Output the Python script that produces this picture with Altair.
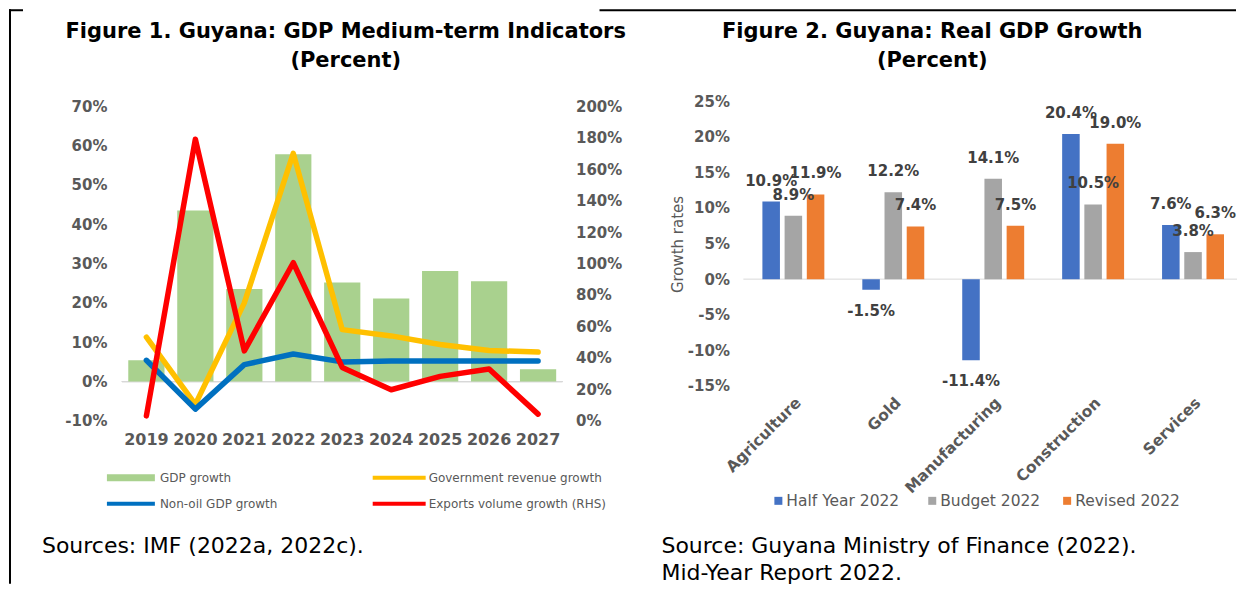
import altair as alt
import pandas as pd

# ---------------- data ----------------
years = ["2019", "2020", "2021", "2022", "2023", "2024", "2025", "2026", "2027"]
gdp_growth = [5.4, 43.5, 23.5, 57.8, 25.2, 21.1, 28.1, 25.5, 3.1]
gov_revenue_growth = [11.3, -5.8, 20.0, 58.0, 13.2, 11.6, 9.4, 7.9, 7.5]
non_oil_gdp_growth = [5.4, -7.0, 4.3, 7.0, 5.0, 5.2, 5.2, 5.2, 5.2]
exports_volume_growth = [3.2, 179.0, 44.5, 100.5, 34.0, 19.8, 28.3, 33.0, 4.3]

sectors = ["Agriculture", "Gold", "Manufacturing", "Construction", "Services"]
series_names = ["Half Year 2022", "Budget 2022", "Revised 2022"]
half_year_2022 = [10.9, -1.5, -11.4, 20.4, 7.6]
budget_2022 = [8.9, 12.2, 14.1, 10.5, 3.8]
revised_2022 = [11.9, 7.4, 7.5, 19.0, 6.3]

left_legend = ["GDP growth", "Government revenue growth",
               "Non-oil GDP growth", "Exports volume growth (RHS)"]
left_title = ["Figure 1. Guyana: GDP Medium-term Indicators", "(Percent)"]
right_title = ["Figure 2. Guyana: Real GDP Growth", "(Percent)"]
left_source = ["Sources: IMF (2022a, 2022c)."]
right_source = ["Source: Guyana Ministry of Finance (2022).", "Mid-Year Report 2022."]

# ---------------- styles ----------------
FONT = "DejaVu Sans"
AX = "#595959"
GREEN, YELLOW, BLUE, RED = "#A9D18E", "#FFC000", "#0070C0", "#FF0000"
BAR_COLORS = ["#4472C4", "#A5A5A5", "#ED7D31"]
NOVIEW = alt.ViewBackground(stroke="transparent", strokeWidth=0)

LW, LH = 441, 320
RW, RH = 494, 285
SPACING = 181

df_left = pd.DataFrame({
    "year": years, "gdp": gdp_growth, "gov": gov_revenue_growth,
    "nonoil": non_oil_gdp_growth, "exports": exports_volume_growth,
})

rows = []
for name, vals in zip(series_names, [half_year_2022, budget_2022, revised_2022]):
    for s, v in zip(sectors, vals):
        rows.append({"sector": s, "series": name, "value": v,
                     "label": f"{v:.1f}%"})
df_right = pd.DataFrame(rows)

one = pd.DataFrame({"a": [0]})


def txt(s, x, y, size, color="black", weight="normal", align="left", baseline="middle"):
    return alt.Chart(one).mark_text(
        text=s, font=FONT, fontSize=size, color=color, fontWeight=weight,
        align=align, baseline=baseline,
    ).encode(x=alt.value(x), y=alt.value(y))


def hline(x1, x2, y, color, width):
    return alt.Chart(one).mark_rule(color=color, strokeWidth=width).encode(
        x=alt.value(x1), x2=alt.value(x2), y=alt.value(y))


def vline(x, y1, y2, color, width):
    return alt.Chart(one).mark_rule(color=color, strokeWidth=width).encode(
        x=alt.value(x), y=alt.value(y1), y2=alt.value(y2))


def box(x1, x2, y1, y2, color):
    return alt.Chart(one).mark_rect(color=color).encode(
        x=alt.value(x1), x2=alt.value(x2), y=alt.value(y1), y2=alt.value(y2))


# ---------------- left panel ----------------
x_left = alt.X("year:N", sort=years, title=None,
               scale=alt.Scale(paddingInner=0.26, paddingOuter=0.13),
               axis=alt.Axis(labelAngle=0, ticks=False, domain=False,
                             labelFont=FONT, labelFontSize=16, labelFontWeight="bold",
                             labelColor=AX, labelPadding=11))
yL_scale = alt.Scale(domain=[-10, 71.27], nice=False, zero=False)
yL_axis = alt.Axis(values=list(range(-10, 71, 10)), labelExpr="datum.value + '%'",
                   grid=False, ticks=False, domain=False, labelFont=FONT,
                   labelFontSize=15, labelFontWeight="bold", labelColor=AX,
                   labelPadding=15, title=None)
yR_scale = alt.Scale(domain=[0, 203.17], nice=False, zero=False)
yR_axis = alt.Axis(values=list(range(0, 201, 20)), labelExpr="datum.value + '%'",
                   orient="right", grid=False, ticks=False, domain=False,
                   labelFont=FONT, labelFontSize=15, labelFontWeight="bold",
                   labelColor=AX, labelPadding=13, title=None)

base_l = alt.Chart(df_left)
zero_l = base_l.mark_rule(color="#D9D9D9", strokeWidth=1).encode(
    y=alt.Y("z:Q", scale=yL_scale, axis=yL_axis, title=None)
).transform_calculate(z="0")
bars_l = base_l.mark_bar(color=GREEN).encode(
    x=x_left, y=alt.Y("gdp:Q", scale=yL_scale, axis=yL_axis, title=None))
gov_l = base_l.mark_line(color=YELLOW, strokeWidth=5.5, strokeCap="round", strokeJoin="round").encode(
    x=x_left, y=alt.Y("gov:Q", scale=yL_scale, axis=yL_axis, title=None))
non_l = base_l.mark_line(color=BLUE, strokeWidth=5.5, strokeCap="round", strokeJoin="round").encode(
    x=x_left, y=alt.Y("nonoil:Q", scale=yL_scale, axis=yL_axis, title=None))
exp_l = base_l.mark_line(color=RED, strokeWidth=5.5, strokeCap="round", strokeJoin="round").encode(
    x=x_left, y=alt.Y("exports:Q", scale=yR_scale, axis=yR_axis, title=None))

left_main = alt.layer(zero_l, bars_l, gov_l, non_l)

# legend (positions relative to the left plot area)
leg_rows = [377, 403]
leg_cols = [(-15, 33, 38), (251, 304, 307)]
leg_marks = [
    box(leg_cols[0][0], leg_cols[0][1], leg_rows[0] - 3.5, leg_rows[0] + 3.5, GREEN),
    txt(left_legend[0], leg_cols[0][2], leg_rows[0], 12, AX),
    hline(leg_cols[1][0], leg_cols[1][1], leg_rows[0], YELLOW, 4),
    txt(left_legend[1], leg_cols[1][2], leg_rows[0], 12, AX),
    hline(leg_cols[0][0], leg_cols[0][1], leg_rows[1], BLUE, 4),
    txt(left_legend[2], leg_cols[0][2], leg_rows[1], 12, AX),
    hline(leg_cols[1][0], leg_cols[1][1], leg_rows[1], RED, 4),
    txt(left_legend[3], leg_cols[1][2], leg_rows[1], 12, AX),
]
left_decor = [
    txt(left_title[0], 224, -69, 21, weight="bold", align="center"),
    txt(left_title[1], 224, -40, 21, weight="bold", align="center"),
    txt(left_source[0], -80, 445, 22),
    hline(-113, -99, -91, "black", 2),
    vline(-112, -92, 483, "black", 2),
]

left = alt.layer(left_main, exp_l, *leg_marks, *left_decor).resolve_scale(
    y="independent"
).properties(width=LW, height=LH, view=NOVIEW)

# ---------------- right panel ----------------
x_r = alt.X("sector:N", sort=sectors, title=None,
            scale=alt.Scale(paddingInner=0.38, paddingOuter=0.16, align=0.594),
            axis=alt.Axis(labelAngle=-45, ticks=False, domain=False, labelFont=FONT,
                          labelFontSize=15.5, labelFontWeight="bold", labelColor=AX,
                          labelPadding=9))
xo_r = alt.XOffset("series:N", sort=series_names,
                   scale=alt.Scale(paddingInner=0.21, paddingOuter=0))
y_r_scale = alt.Scale(domain=[-15, 25], nice=False, zero=False)
y_r_axis = alt.Axis(values=list(range(-15, 26, 5)), labelExpr="datum.value + '%'",
                    grid=False, ticks=False, domain=False, labelFont=FONT,
                    labelFontSize=15, labelFontWeight="bold", labelColor=AX,
                    labelPadding=14, title="Growth rates", titleFont=FONT,
                    titleFontSize=15, titleFontWeight="normal", titleColor=AX,
                    titleX=-66, titleY=143, titleAngle=-90, titleAlign="center",
                    titleBaseline="middle")
color_r = alt.Color("series:N", sort=series_names, legend=None,
                    scale=alt.Scale(domain=series_names, range=BAR_COLORS))

base_r = alt.Chart(df_right)
zero_r = alt.Chart(one).mark_rule(color="#D9D9D9", strokeWidth=1).encode(
    y=alt.Y("z:Q", scale=y_r_scale, axis=y_r_axis)
).transform_calculate(z="0")
bars_r = base_r.mark_bar().encode(
    x=x_r, xOffset=xo_r, y=alt.Y("value:Q", scale=y_r_scale, axis=y_r_axis), color=color_r)
lab_pos = base_r.transform_filter("datum.value >= 0").mark_text(
    font=FONT, fontSize=15, fontWeight="bold", color="#404040", baseline="middle", dy=-21
).encode(x=x_r, xOffset=xo_r, y=alt.Y("value:Q", scale=y_r_scale, axis=y_r_axis), text="label:N")
lab_neg = base_r.transform_filter("datum.value < 0").mark_text(
    font=FONT, fontSize=15, fontWeight="bold", color="#404040", baseline="middle", dy=21
).encode(x=x_r, xOffset=xo_r, y=alt.Y("value:Q", scale=y_r_scale, axis=y_r_axis), text="label:N")

sq_x = [31, 185, 320]
r_leg = []
for i, name in enumerate(series_names):
    r_leg.append(box(sq_x[i], sq_x[i] + 8, 396, 404, BAR_COLORS[i]))
    r_leg.append(txt(name, sq_x[i] + 12, 400, 15.5, AX))

right_decor = [
    txt(right_title[0], 189, -69, 21, weight="bold", align="center"),
    txt(right_title[1], 189, -40, 21, weight="bold", align="center"),
    txt(right_source[0], -82, 445, 22),
    txt(right_source[1], -82, 472, 22),
    hline(-144, 493, -91, "black", 2),
]

right = alt.layer(zero_r, bars_r, lab_pos, lab_neg, *r_leg, *right_decor).properties(
    width=RW, height=RH, view=NOVIEW)

chart = alt.hconcat(left, right, spacing=SPACING, bounds="flush").properties(
    padding={"left": 0, "top": 0, "right": 0, "bottom": 0}
).configure_view(stroke="transparent", strokeWidth=0).configure(background="white")

chart.save("out.html", embed_options={"renderer": "svg", "actions": False})
